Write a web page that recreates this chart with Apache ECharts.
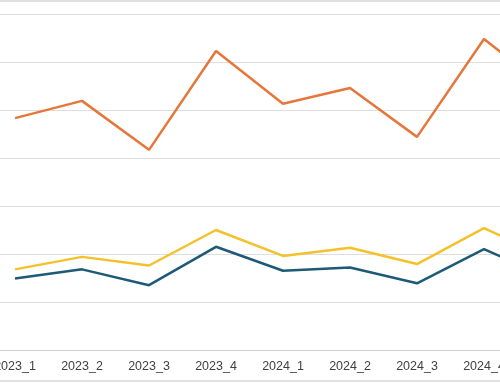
<!DOCTYPE html>
<html>
<head>
<meta charset="utf-8">
<script src="https://cdn.jsdelivr.net/npm/echarts@6/dist/echarts.min.js"></script>
<style>
html,body{margin:0;padding:0;width:500px;height:383px;overflow:hidden;background:#fff;}
#chart{position:absolute;left:-100px;top:0;width:800px;height:383px;}
</style>
</head>
<body>
<div id="chart"></div>
<script>
const categories = ['2023_1','2023_2','2023_3','2023_4','2024_1','2024_2','2024_3','2024_4','2025_1'];
const orangeValues = [48.3, 51.9, 41.7, 62.3, 51.3, 54.6, 44.4, 64.8, 53.8];
const yellowValues = [16.8, 19.4, 17.6, 25.0, 19.6, 21.3, 17.9, 25.4, 19.0];
const blueValues   = [14.9, 16.8, 13.5, 21.5, 16.5, 17.2, 13.9, 21.0, 14.8];
const yTicks = {min: 0, max: 70, interval: 10};

const chart = echarts.init(document.getElementById('chart'), null, {renderer: 'canvas'});
const lineStyle = (c) => ({color: c, width: 2.5});
chart.setOption({
  animation: false,
  backgroundColor: '#fff',
  grid: {left: 81.5, top: 14, width: 67 * categories.length, bottom: 33, containLabel: false},
  xAxis: {
    type: 'category',
    data: categories,
    boundaryGap: true,
    axisLine: {lineStyle: {color: '#cfcfcf', width: 1}},
    axisTick: {show: false},
    axisLabel: {color: '#3f3f3f', fontSize: 12.5, fontFamily: 'Liberation Sans, Arial, sans-serif', margin: 10}
  },
  yAxis: {
    type: 'value',
    min: yTicks.min, max: yTicks.max, interval: yTicks.interval,
    axisLabel: {show: false},
    axisLine: {show: false},
    axisTick: {show: false},
    splitLine: {lineStyle: {color: '#dedede', width: 1}}
  },
  series: [
    {name: 'Series 1', type: 'line', data: orangeValues, symbol: 'none', lineStyle: lineStyle('#E4773A'), itemStyle: {color: '#E4773A'}},
    {name: 'Series 2', type: 'line', data: yellowValues, symbol: 'none', lineStyle: lineStyle('#F3C22B'), itemStyle: {color: '#F3C22B'}},
    {name: 'Series 3', type: 'line', data: blueValues, symbol: 'none', lineStyle: lineStyle('#1D5A78'), itemStyle: {color: '#1D5A78'}}
  ],
  graphic: [
    {type: 'line', shape: {x1: 100, y1: 1, x2: 600, y2: 1}, style: {stroke: '#d6d6d6', lineWidth: 1.5}},
    {type: 'line', shape: {x1: 100, y1: 381, x2: 600, y2: 381}, style: {stroke: '#d6d6d6', lineWidth: 1.5}}
  ]
});
</script>
</body>
</html>
